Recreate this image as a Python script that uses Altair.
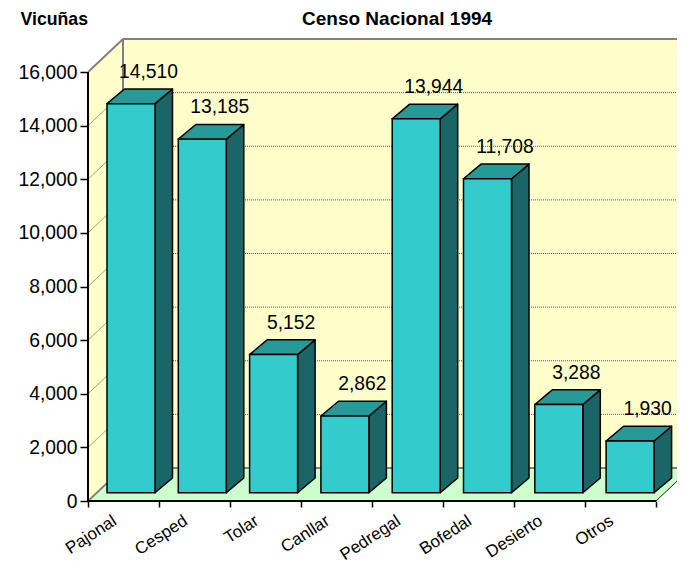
import altair as alt
import pandas as pd

categories = ["Pajonal", "Cesped", "Tolar", "Canllar", "Pedregal", "Bofedal", "Desierto", "Otros"]
values = [14510, 13185, 5152, 2862, 13944, 11708, 3288, 1930]
y_ticks = [0, 2000, 4000, 6000, 8000, 10000, 12000, 14000, 16000]

# geometry of the oblique projection, in data units
PX_X = 71.0            # px per category
PX_Y = 429 / 16000     # px per vicuña
WALL_DX = 35 / PX_X
WALL_DY = 33 / PX_Y
BAR_DX = 17.5 / PX_X
BAR_DY = 14.7 / PX_Y
BAR_BASE = 8.3 / PX_Y
BAR_LEFT = 19 / PX_X
BAR_STEP = 71.3 / PX_X
BAR_W = 48 / PX_X
WIDTH, HEIGHT = 589, 466
NCAT = len(categories)

xs = alt.Scale(domain=[0, WIDTH / PX_X], range=[0, WIDTH], nice=False, zero=False)
ys = alt.Scale(domain=[0, HEIGHT / PX_Y], range=[HEIGHT, 0], nice=False, zero=False)

label_expr = (
    "datum.value % 1 == 0 ? '' : "
    + str(categories)
    + "[floor(datum.value)]"
)
x_axis = alt.Axis(
    values=[n / 2 for n in range(0, 2 * NCAT + 1)],
    domain=False, grid=False, title=None,
    tickColor="black", tickWidth=1.5, tickSize=6,
    tickOpacity={"condition": {"test": "datum.value % 1 == 0", "value": 1}, "value": 0},
    labelExpr=label_expr, labelAngle=-33, labelAlign="right", labelBaseline="middle",
    labelFont="Liberation Sans", labelFontSize=17, labelColor="black",
    labelPadding=12, labelOffset=-9, labelOverlap=False, labelFlush=False, labelBound=False,
)
y_axis = alt.Axis(
    values=y_ticks, format=",.0f", domain=False, grid=False,
    tickColor="black", tickWidth=1.5, tickSize=8,
    labelFont="Liberation Sans", labelFontSize=19.3, labelColor="black", labelPadding=3,
    labelOverlap=False, labelBound=False, labelFlush=False,
    title="Vicuñas", titleAngle=0, titleX=-68, titleY=-16, titleAlign="left",
    titleBaseline="middle", titleFont="Liberation Sans", titleFontSize=17.7,
    titleFontWeight="bold", titleColor="black",
)


def X(field="x"):
    return alt.X(f"{field}:Q", scale=xs, axis=x_axis)


def Y(field="y"):
    return alt.Y(f"{field}:Q", scale=ys, axis=y_axis)


def para(rows):
    return alt.Chart(pd.DataFrame(rows))


def area_enc():
    return dict(x=X(), y=Y(), y2=alt.Y2("y2:Q"), detail="k:N")


rows_front, rows_top, rows_side, rows_lab = [], [], [], []
for i, (c, v) in enumerate(zip(categories, values)):
    l = BAR_LEFT + i * BAR_STEP
    r = l + BAR_W
    b = BAR_BASE
    t = BAR_BASE + v
    rows_front.append(dict(x=l, x2=r, y=b, y2=t))
    rows_side += [dict(k=c, x=r, y=b, y2=t), dict(k=c, x=r + BAR_DX, y=b + BAR_DY, y2=t + BAR_DY)]
    rows_top += [
        dict(k=c, x=l, y=t, y2=t),
        dict(k=c, x=l + BAR_DX, y=t, y2=t + BAR_DY),
        dict(k=c, x=r, y=t, y2=t + BAR_DY),
        dict(k=c, x=r + BAR_DX, y=t + BAR_DY, y2=t + BAR_DY),
    ]
    rows_lab.append(dict(x=(l + r) / 2 + BAR_DX, y=t + BAR_DY, v=v))

top_v = y_ticks[-1]
right = NCAT + WALL_DX

back_wall = para([dict(x=WALL_DX, x2=right, y=WALL_DY, y2=top_v + WALL_DY)]).mark_rect(
    fill="#FFFFCC", clip=True
).encode(x=X(), x2="x2:Q", y=Y(), y2="y2:Q")

left_wall = para([dict(k="w", x=0, y=0, y2=top_v), dict(k="w", x=WALL_DX, y=WALL_DY, y2=top_v + WALL_DY)]).mark_area(
    fill="#FFFFCC", orient="vertical"
).encode(**area_enc())

floor = para([
    dict(k="f", x=0, y=0, y2=0),
    dict(k="f", x=WALL_DX, y=0, y2=WALL_DY),
    dict(k="f", x=NCAT, y=0, y2=WALL_DY),
    dict(k="f", x=right, y=WALL_DY, y2=WALL_DY),
]).mark_area(fill="#CCFFCC", orient="vertical", clip=True).encode(**area_enc())

grid_df = [dict(y=v, yb=v + WALL_DY, x=0, x1=WALL_DX, x2=right) for v in y_ticks[1:-1]]
grid_back = para(grid_df).mark_rule(stroke="#555555", strokeWidth=1, strokeDash=[1, 1], clip=True).encode(
    x=X("x1"), x2="x2:Q", y=Y("yb"))
grid_left = para(grid_df).mark_rule(stroke="#A3A38A", strokeWidth=1).encode(
    x=X("x"), x2="x1:Q", y=Y("y"), y2="yb:Q")

edge_rows = [
    dict(x=0, x2=WALL_DX, y=top_v, y2=top_v + WALL_DY),
    dict(x=WALL_DX, x2=right, y=top_v + WALL_DY, y2=top_v + WALL_DY),
    dict(x=WALL_DX, x2=WALL_DX, y=WALL_DY, y2=top_v + WALL_DY),
    dict(x=0, x2=WALL_DX, y=0, y2=WALL_DY),
    dict(x=WALL_DX, x2=right, y=WALL_DY, y2=WALL_DY),
]
edges = para(edge_rows).mark_rule(stroke="#808080", strokeWidth=2, clip=True).encode(
    x=X("x"), x2="x2:Q", y=Y("y"), y2="y2:Q")

axes_rows = [
    dict(x=0, x2=NCAT, y=0, y2=0),
    dict(x=0, x2=0, y=0, y2=top_v),
]
axes_lines = para(axes_rows).mark_rule(stroke="black", strokeWidth=2).encode(
    x=X("x"), x2="x2:Q", y=Y("y"), y2="y2:Q")
floor_edge = para([dict(x=NCAT, x2=right, y=0, y2=WALL_DY)]).mark_rule(stroke="#222222", strokeWidth=1, clip=True).encode(
    x=X("x"), x2="x2:Q", y=Y("y"), y2="y2:Q")

side = para(rows_side).mark_area(fill="#1A6666", stroke="black", strokeWidth=1.5, orient="vertical", strokeJoin="round").encode(**area_enc())
top = para(rows_top).mark_area(fill="#269999", stroke="black", strokeWidth=1.5, orient="vertical", strokeJoin="round").encode(**area_enc())
front = para(rows_front).mark_rect(fill="#33CCCC", stroke="black", strokeWidth=1.5).encode(
    x=X("x"), x2="x2:Q", y=Y("y"), y2="y2:Q")
labels = para(rows_lab).mark_text(
    font="Liberation Sans", fontSize=19.3, color="black", dy=-17, baseline="middle", align="center"
).encode(x=X("x"), y=Y("y"), text=alt.Text("v:Q", format=","))

chart = alt.layer(
    back_wall, left_wall, floor, grid_back, grid_left, edges, floor_edge, axes_lines,
    side, top, front, labels,
).properties(
    width=WIDTH, height=HEIGHT,
    padding={"left": 80, "top": 27, "right": 0, "bottom": 63},
    autosize=alt.AutoSizeParams(type="none"),
    background="white",
    title=alt.TitleParams(
        "Censo Nacional 1994", anchor="start", frame="group", dx=214, offset=-19,
        font="Liberation Sans", fontSize=19, fontWeight="bold", color="black",
    ),
).configure_view(stroke=None)

chart.save("out.html", embed_options={"renderer": "svg", "actions": False})
